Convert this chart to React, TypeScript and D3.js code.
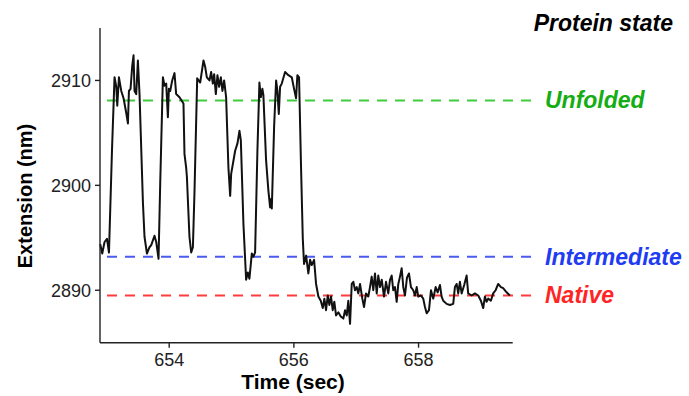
import React from "react";
import * as d3 from "d3";

// trace: time (sec) and extension (nm)
const timeSec = [
  652.894, 652.926, 652.963, 653.002, 653.034, 653.082, 653.123, 653.151, 653.167, 653.194,
  653.231, 653.268, 653.311, 653.338, 653.354, 653.38, 653.407, 653.428, 653.444, 653.471,
  653.498, 653.524, 653.579, 653.604, 653.643, 653.684, 653.712, 653.764, 653.792, 653.829,
  653.856, 653.899, 653.925, 653.952, 653.979, 653.995, 654.016, 654.048, 654.085, 654.112,
  654.165, 654.229, 654.245, 654.272, 654.284, 654.325, 654.353, 654.38, 654.405, 654.449,
  654.497, 654.55, 654.577, 654.604, 654.646, 654.673, 654.7, 654.721, 654.748, 654.774,
  654.801, 654.829, 654.854, 654.881, 654.913, 654.95, 654.978, 654.994, 655.058, 655.095,
  655.127, 655.149, 655.191, 655.234, 655.261, 655.287, 655.325, 655.351, 655.378, 655.415,
  655.447, 655.47, 655.495, 655.511, 655.554, 655.591, 655.619, 655.635, 655.646, 655.683,
  655.715, 655.736, 655.758, 655.779, 655.806, 655.859, 655.912, 655.966, 656.003, 656.035,
  656.056, 656.083, 656.115, 656.143, 656.163, 656.196, 656.232, 656.26, 656.287, 656.324,
  656.356, 656.393, 656.431, 656.463, 656.489, 656.516, 656.543, 656.569, 656.596, 656.623,
  656.649, 656.676, 656.713, 656.752, 656.793, 656.821, 656.848, 656.873, 656.901, 656.928,
  656.954, 656.981, 657.008, 657.034, 657.061, 657.098, 657.125, 657.157, 657.194, 657.221,
  657.248, 657.274, 657.301, 657.329, 657.354, 657.381, 657.409, 657.446, 657.478, 657.514,
  657.542, 657.569, 657.594, 657.622, 657.649, 657.675, 657.702, 657.729, 657.755, 657.782,
  657.814, 657.846, 657.878, 657.915, 657.942, 657.97, 657.995, 658.038, 658.075, 658.103,
  658.13, 658.167, 658.199, 658.236, 658.274, 658.306, 658.343, 658.37, 658.396, 658.45,
  658.503, 658.556, 658.583, 658.611, 658.636, 658.663, 658.691, 658.732, 658.771, 658.796,
  658.851, 658.904, 658.957, 659.0, 659.037, 659.064, 659.091, 659.117, 659.16, 659.197,
  659.236, 659.277, 659.321, 659.357, 659.412, 659.465,
];

const extensionNm = [
  2894.4, 2893.5, 2894.6, 2894.9, 2893.6, 2903.3, 2910.3, 2909.4, 2907.6, 2910.3,
  2909.0, 2908.3, 2906.9, 2905.9, 2909.0, 2909.2, 2911.4, 2912.4, 2909.0, 2908.7,
  2911.9, 2908.7, 2898.3, 2895.1, 2893.5, 2894.1, 2894.3, 2895.2, 2894.6, 2893.0,
  2900.2, 2910.3, 2909.5, 2909.7, 2906.5, 2909.2, 2909.0, 2910.0, 2910.7, 2908.7,
  2908.4, 2907.8, 2903.0, 2901.7, 2900.8, 2895.1, 2893.6, 2894.1, 2899.2, 2910.2,
  2909.8, 2911.9, 2911.3, 2910.3, 2910.0, 2910.8, 2909.7, 2910.6, 2908.7, 2910.5,
  2909.4, 2910.3, 2909.0, 2910.0, 2908.4, 2901.7, 2899.0, 2901.1, 2903.3, 2904.0,
  2905.2, 2904.3, 2896.3, 2891.0, 2891.7, 2891.1, 2893.5, 2893.2, 2893.6, 2903.3,
  2909.8, 2908.4, 2909.2, 2908.6, 2902.4, 2899.5, 2897.9, 2898.7, 2897.8, 2905.6,
  2910.0, 2909.0, 2906.8, 2909.4, 2909.7, 2910.8, 2910.5, 2910.3, 2909.2, 2908.3,
  2910.5, 2910.3, 2901.7, 2894.9, 2892.5, 2893.3, 2891.6, 2892.9, 2892.4, 2892.9,
  2890.6, 2889.4, 2889.0, 2888.3, 2889.2, 2888.1, 2889.5, 2888.6, 2889.4, 2888.1,
  2888.9, 2887.6, 2887.9, 2887.5, 2887.3, 2888.1, 2887.6, 2889.0, 2886.8, 2890.6,
  2890.8, 2890.0, 2890.3, 2889.7, 2890.6, 2889.2, 2888.4, 2889.7, 2889.4, 2890.3,
  2891.3, 2890.0, 2891.6, 2889.7, 2891.4, 2890.3, 2891.0, 2889.4, 2890.8, 2889.7,
  2891.0, 2891.4, 2890.0, 2890.3, 2888.9, 2890.6, 2891.3, 2892.1, 2890.3, 2889.5,
  2891.2, 2891.6, 2890.3, 2890.0, 2889.5, 2890.3, 2889.4, 2889.5, 2889.2, 2888.4,
  2887.8, 2888.1, 2890.0, 2889.2, 2890.3, 2889.8, 2890.5, 2889.4, 2889.0, 2888.7,
  2888.6, 2888.7, 2890.3, 2890.6, 2889.7, 2890.8, 2889.7, 2890.5, 2891.4, 2889.7,
  2889.5, 2889.7, 2889.5, 2889.0, 2888.3, 2889.4, 2888.9, 2889.2, 2889.0, 2889.7,
  2890.0, 2890.6, 2890.3, 2890.2, 2889.8, 2889.5,
];

const xTicks = [654, 656, 658];
const yTicks = [2890, 2900, 2910];

const stateNames = ["Unfolded", "Intermediate", "Native"];
const stateLevels = [2908.1, 2893.2, 2889.5];
const stateLineColors = ["#3fcc3f", "#4a5af0", "#ff3b3b"];
const stateTextColors = ["#14ad14", "#1f3cf2", "#ff2525"];

const font = "'Liberation Sans', Arial, Helvetica, sans-serif";

export default function App() {
  const width = 689;
  const height = 396;
  const margin = { top: 28, right: 176.3, bottom: 53.3, left: 100 };

  const x = d3.scaleLinear().domain([652.89, 659.51]).range([margin.left, width - margin.right]);
  const y = d3.scaleLinear().domain([2885, 2915]).range([height - margin.bottom, margin.top]);

  const points: [number, number][] = timeSec.map((t, i) => [t, extensionNm[i]]);
  const line = d3
    .line<[number, number]>()
    .x((d) => x(d[0]))
    .y((d) => y(d[1]));

  const x0 = margin.left;
  const x1 = width - margin.right;
  const y0 = height - margin.bottom;

  return (
    <svg
      width={width}
      height={height}
      style={{ position: "absolute", left: 0, top: 0, background: "#fff" }}
      fontFamily={font}
    >
      {/* state reference lines */}
      {stateNames.map((name, i) => (
        <g key={name}>
          <line
            x1={107}
            x2={536}
            y1={y(stateLevels[i])}
            y2={y(stateLevels[i])}
            stroke={stateLineColors[i]}
            strokeWidth={2}
            strokeDasharray="10,8"
          />
          <text
            x={545}
            y={y(stateLevels[i]) + 8}
            fontSize={23}
            fontWeight="bold"
            fontStyle="italic"
            fill={stateTextColors[i]}
          >
            {name}
          </text>
        </g>
      ))}

      {/* trace */}
      <path d={line(points) ?? ""} fill="none" stroke="#111" strokeWidth={2} strokeLinejoin="round" />

      {/* axes */}
      <line x1={x0} x2={x1} y1={y0} y2={y0} stroke="#222" strokeWidth={1.4} />
      <line x1={x0} x2={x0} y1={margin.top} y2={y0} stroke="#222" strokeWidth={1.4} />
      {xTicks.map((t) => (
        <g key={t}>
          <line x1={x(t)} x2={x(t)} y1={y0} y2={y0 + 5} stroke="#222" strokeWidth={1.4} />
          <text x={x(t)} y={366} fontSize={18} textAnchor="middle" fill="#222">
            {t}
          </text>
        </g>
      ))}
      {yTicks.map((v) => (
        <g key={v}>
          <line x1={x0 - 5} x2={x0} y1={y(v)} y2={y(v)} stroke="#222" strokeWidth={1.4} />
          <text x={91} y={y(v) + 6.5} fontSize={18} textAnchor="end" fill="#222">
            {v}
          </text>
        </g>
      ))}

      {/* titles */}
      <text x={293} y={389} fontSize={21} fontWeight="bold" textAnchor="middle" fill="#000">
        Time (sec)
      </text>
      <text
        transform="translate(32,196) rotate(-90)"
        fontSize={20}
        fontWeight="bold"
        textAnchor="middle"
        fill="#000"
      >
        Extension (nm)
      </text>
      <text x={673} y={31} fontSize={23} fontWeight="bold" fontStyle="italic" textAnchor="end" fill="#000">
        Protein state
      </text>
    </svg>
  );
}
